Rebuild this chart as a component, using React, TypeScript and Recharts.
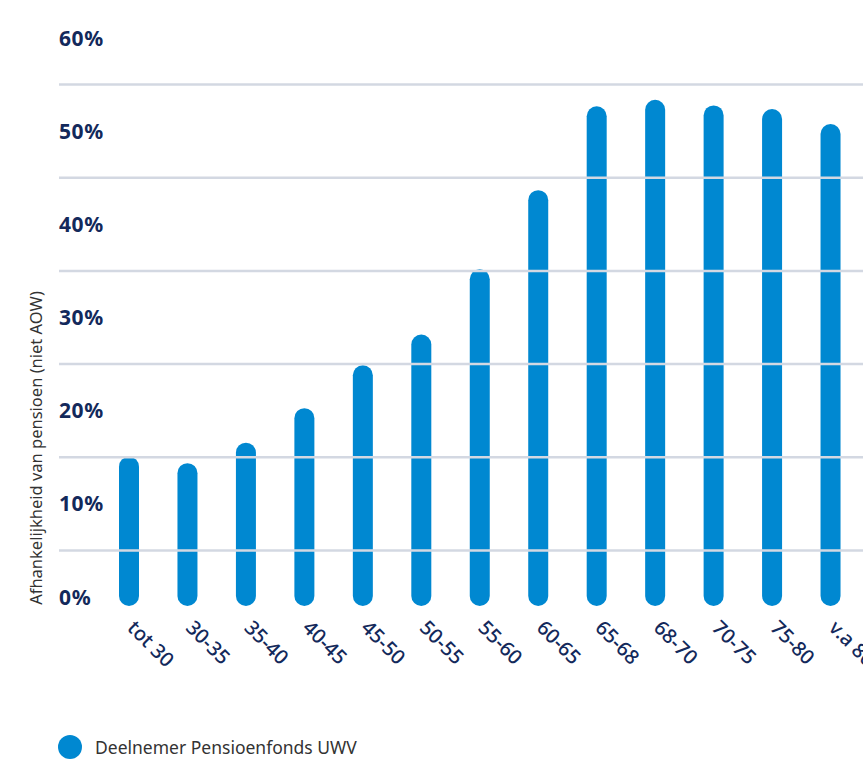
import React from 'react';
import {
  BarChart,
  Bar,
  XAxis,
  YAxis,
  ReferenceLine,
  Label,
} from 'recharts';

const ageGroups = [
  'tot 30', '30-35', '35-40', '40-45', '45-50', '50-55', '55-60',
  '60-65', '65-68', '68-70', '70-75', '75-80', 'v.a 80',
];
const dependency = [14.1, 13.4, 15.6, 19.3, 23.9, 27.2, 34.2, 42.7, 51.7, 52.4, 51.8, 51.4, 49.8];
const yTicks = [0, 10, 20, 30, 40, 50, 60];
const gridValues = [5, 15, 25, 35, 45, 55];

const seriesName = 'Deelnemer Pensioenfonds UWV';
const yTitle = 'Afhankelijkheid van pensioen (niet AOW)';

const BLUE = '#0088d1';
const NAVY = '#13295b';
const GRID = '#d3d8e2';
const FONT = '"Noto Sans", Lato, sans-serif';

const data = ageGroups.map((group, i) => ({ group, value: dependency[i] }));

// pill-shaped bar: rounded caps stick out past both ends
const PillBar = (props: any) => {
  const { x, y, width, height } = props;
  const cap = 9;
  return (
    <rect
      x={x}
      y={y - cap}
      width={width}
      height={height + cap * 2}
      rx={width / 2}
      ry={width / 2}
      fill={BLUE}
    />
  );
};

const YTick = ({ x, y, payload }: any) => (
  <text
    x={x}
    y={y}
    dy={7.5}
    textAnchor="start"
    fill={NAVY}
    fontFamily={FONT}
    fontSize={21}
    fontWeight={700}
    letterSpacing={0.6}
  >
    {payload.value}%
  </text>
);

const XTick = ({ x, y, payload }: any) => (
  <text
    x={x - 3}
    y={y + 32}
    textAnchor="start"
    fill={NAVY}
    fontFamily={FONT}
    fontSize={20}
    fontWeight={500}
    transform={`rotate(45, ${x - 3}, ${y + 32})`}
  >
    {payload.value}
  </text>
);

const YTitle = ({ viewBox }: any) => {
  const cx = viewBox.x + 26;
  const cy = viewBox.y + viewBox.height - 149;
  return (
    <text
      x={cx}
      y={cy}
      textAnchor="middle"
      dominantBaseline="central"
      fill="#333"
      fontFamily={FONT}
      fontSize={16.5}
      transform={`rotate(-90, ${cx}, ${cy})`}
    >
      {yTitle}
    </text>
  );
};

export default function App() {
  return (
    <div
      style={{
        position: 'absolute',
        left: 0,
        top: 0,
        width: 863,
        height: 765,
        overflow: 'hidden',
        background: '#fff',
      }}
    >
      <BarChart
        width={900}
        height={765}
        data={data}
        margin={{ top: 38, right: 0, left: 9, bottom: 88 }}
      >
        {gridValues.map((v) => (
          <ReferenceLine key={v} y={v} stroke={GRID} strokeWidth={2.5} />
        ))}
        <XAxis
          dataKey="group"
          axisLine={false}
          tickLine={false}
          tickSize={0}
          tickMargin={0}
          height={80}
          interval={0}
          padding={{ left: 41, right: 40 }}
          tick={<XTick />}
        />
        <YAxis
          domain={[0, 60]}
          ticks={yTicks}
          width={50}
          axisLine={false}
          tickLine={false}
          tickSize={0}
          tickMargin={0}
          tick={<YTick />}
        >
          <Label content={<YTitle />} />
        </YAxis>
        <Bar dataKey="value" barSize={20} shape={<PillBar />} isAnimationActive={false} />
      </BarChart>
      <div
        style={{
          position: 'absolute',
          left: 58,
          top: 735,
          display: 'flex',
          alignItems: 'center',
          gap: 13,
          fontFamily: FONT,
          fontSize: 17.5,
          color: '#333',
        }}
      >
        <span
          style={{
            width: 24,
            height: 24,
            borderRadius: '50%',
            background: BLUE,
            display: 'inline-block',
          }}
        />
        <span>{seriesName}</span>
      </div>
    </div>
  );
}
